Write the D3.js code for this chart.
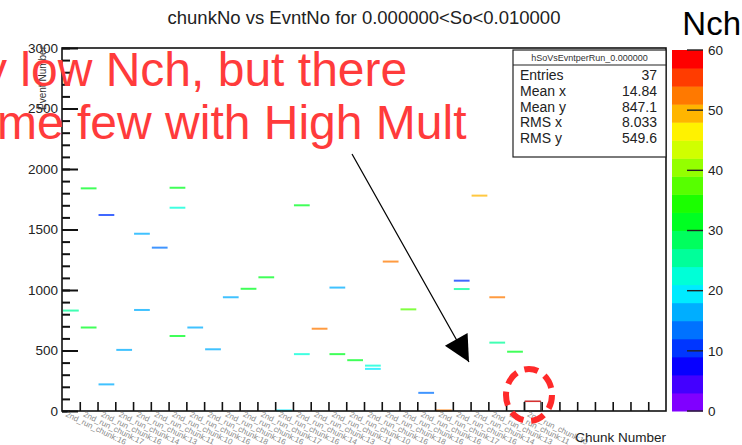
<!DOCTYPE html>
<html>
<head>
<meta charset="utf-8">
<script src="https://cdn.jsdelivr.net/npm/d3@7"></script>
<style>
  body { margin: 0; background: #fff; }
  svg { display: block; font-family: "Liberation Sans", Arial, sans-serif; }
</style>
</head>
<body>
<div id="chart"></div>
<script>
// chunk bin index of each filled cell
const chunks = [0, 1, 1, 2, 2, 3, 4, 4, 5, 6, 6, 6, 7, 8, 9, 10, 11, 12, 13, 13,
  14, 15, 15, 16, 17, 17, 18, 19, 20, 21, 22, 22, 23, 24, 24, 25];
// event number of each cell
const events = [830, 1840, 690, 1620, 220, 505, 1465, 835, 1350, 1845, 1680, 620, 690, 510, 940, 1010, 1105, 5, 1700, 470,
  680, 1020, 470, 420, 375, 348, 1235, 840, 150, 5, 1077, 1008, 1780, 940, 565, 490];
// Nch (colour) of each cell
const nch = [24, 32, 32, 11, 16, 16, 16, 16, 14, 32, 21, 32, 16, 16, 16, 32, 30, 20, 31, 21,
  51, 16, 30, 32, 21, 20, 51, 37, 14, 51, 11, 24, 49, 51, 24, 32];
// the one high multiplicity cell, drawn as a box
const boxCell = [{ chunk: 26, lo: 0, hi: 80, nch: 60 }];

const nBins = 34;
const yTicks = [0, 500, 1000, 1500, 2000, 2500, 3000];
const zTicks = [0, 10, 20, 30, 40, 50, 60];
const statNames = ['Entries', 'Mean x', 'Mean y', 'RMS x', 'RMS y'];
const statValues = ['37', '14.84', '847.1', '8.033', '549.6'];
// per chunk labels (tiny, unreadable in the original), only the filled chunks have one
const chunkLabels = d3.range(27).map(i => '2nd_run_chunk:' + [16, 17, 16, 14, 13, 11, 10, 16, 18, 16][i % 10]);

const W = 742, H = 445;
const padL = 62, padR = 666, padT = 48, padB = 411;

const svg = d3.select('#chart').append('svg')
  .attr('width', W).attr('height', H);

const x = d3.scaleLinear().domain([0, nBins]).range([padL, padR]);
const y = d3.scaleLinear().domain([0, 3000]).range([padB, padT]);
const z = d3.scaleLinear().domain([0, 60]).range([padB, 50]);

// ROOT-ish rainbow palette, 20 contours
const nCont = 20;
const bandColor = i => d3.hsl(270 * (1 - i / (nCont - 1)), 1, 0.5).toString();
const color = v => bandColor(Math.min(nCont - 1, Math.floor(v / 60 * nCont)));

// title
svg.append('text')
  .attr('x', 364).attr('y', 24)
  .attr('text-anchor', 'middle')
  .attr('font-size', 18.5)
  .attr('fill', '#222')
  .text('chunkNo vs EvntNo for 0.000000<So<0.010000');

svg.append('text')
  .attr('x', 741).attr('y', 35)
  .attr('text-anchor', 'end')
  .attr('font-size', 33)
  .attr('fill', '#000')
  .text('Nch');

// cells
const cells = chunks.map((c, i) => ({ c: c, e: events[i], n: nch[i] }));
svg.append('g').selectAll('line')
  .data(cells)
  .enter()
  .append('line')
  .attr('x1', d => x(d.c) + 1)
  .attr('x2', d => x(d.c + 1) - 1)
  .attr('y1', d => y(d.e))
  .attr('y2', d => y(d.e))
  .attr('stroke', d => color(d.n))
  .attr('stroke-opacity', 0.75)
  .attr('stroke-width', 2);

const box = svg.append('g').selectAll('g')
  .data(boxCell)
  .enter()
  .append('g');
box.append('rect')
  .attr('x', d => x(d.chunk) + 1)
  .attr('y', d => y(d.hi))
  .attr('width', d => x(d.chunk + 1) - x(d.chunk) - 2)
  .attr('height', d => y(d.lo) - y(d.hi))
  .attr('fill', 'none')
  .attr('stroke', '#555')
  .attr('stroke-width', 1);
box.append('line')
  .attr('x1', d => x(d.chunk) + 1)
  .attr('x2', d => x(d.chunk + 1) - 1)
  .attr('y1', d => y(d.hi))
  .attr('y2', d => y(d.hi))
  .attr('stroke', '#d83030')
  .attr('stroke-width', 1.5);

// frame
svg.append('rect')
  .attr('x', padL).attr('y', padT)
  .attr('width', padR - padL).attr('height', padB - padT)
  .attr('fill', 'none')
  .attr('stroke', '#111')
  .attr('stroke-width', 1.6);

// y axis: minor and major ticks pointing inward
svg.append('g')
  .attr('transform', 'translate(' + padL + ',0)')
  .call(d3.axisLeft(y).tickValues(d3.range(0, 3001, 100)).tickSize(-8).tickFormat(''))
  .call(g => g.select('.domain').remove());
const yMajor = svg.append('g')
  .attr('transform', 'translate(' + padL + ',0)')
  .call(d3.axisLeft(y).tickValues(yTicks).tickSize(-16).tickPadding(4).tickFormat(d3.format('d')))
  .call(g => g.select('.domain').remove());
yMajor.selectAll('text')
  .attr('font-size', 13.5)
  .attr('font-family', '"Liberation Sans", Arial, sans-serif')
  .attr('fill', '#222');
svg.selectAll('.tick line')
  .attr('stroke', '#111')
  .attr('stroke-width', 2);

svg.append('text')
  .attr('transform', 'translate(46,' + (padT - 2) + ') rotate(-90)')
  .attr('text-anchor', 'end')
  .attr('font-size', 10)
  .attr('fill', '#333')
  .text('Event Number');

// x axis: one tick per chunk bin
const xAxis = svg.append('g')
  .attr('transform', 'translate(0,' + padB + ')')
  .call(d3.axisBottom(x).tickValues(d3.range(1, nBins)).tickSize(-9).tickFormat(''))
  .call(g => g.select('.domain').remove());
xAxis.selectAll('.tick line')
  .attr('stroke', '#111')
  .attr('stroke-width', 1.6);
svg.append('g').selectAll('text')
  .data(chunkLabels)
  .enter()
  .append('text')
  .attr('transform', (d, i) => 'translate(' + (x(i + 0.5) - 6) + ',' + (padB + 5) + ') rotate(26)')
  .attr('font-size', 8)
  .attr('fill', '#8a8a8a')
  .text(d => d);
svg.append('text')
  .attr('x', padR).attr('y', 442)
  .attr('text-anchor', 'end')
  .attr('font-size', 13.5)
  .attr('fill', '#222')
  .text('Chunk Number');

// stats box
const sx0 = 513, sx1 = padR, sy0 = 50;
const stats = svg.append('g');
stats.append('rect')
  .attr('x', sx0).attr('y', sy0)
  .attr('width', sx1 - sx0).attr('height', 107)
  .attr('fill', '#fff')
  .attr('stroke', '#222')
  .attr('stroke-width', 1.2);
stats.append('line')
  .attr('x1', sx0).attr('x2', sx1)
  .attr('y1', 65).attr('y2', 65)
  .attr('stroke', '#222')
  .attr('stroke-width', 1.2);
stats.append('text')
  .attr('x', (sx0 + sx1) / 2).attr('y', 61)
  .attr('text-anchor', 'middle')
  .attr('font-size', 9)
  .attr('fill', '#333')
  .text('hSoVsEvntperRun_0.000000');
stats.selectAll('text.name')
  .data(statNames)
  .enter()
  .append('text')
  .attr('class', 'name')
  .attr('x', 520)
  .attr('y', (d, i) => 80 + i * 15.8)
  .attr('font-size', 14)
  .attr('fill', '#222')
  .text(d => d);
stats.selectAll('text.val')
  .data(statValues)
  .enter()
  .append('text')
  .attr('class', 'val')
  .attr('x', 657)
  .attr('y', (d, i) => 80 + i * 15.8)
  .attr('text-anchor', 'end')
  .attr('font-size', 14)
  .attr('fill', '#222')
  .text(d => d);

// palette
const px0 = 672, px1 = 703;
const pal = svg.append('g');
pal.selectAll('rect')
  .data(d3.range(nCont))
  .enter()
  .append('rect')
  .attr('x', px0)
  .attr('width', px1 - px0)
  .attr('y', i => z((i + 1) * 60 / nCont))
  .attr('height', i => z(i * 60 / nCont) - z((i + 1) * 60 / nCont) + 0.5)
  .attr('fill', i => bandColor(i));
pal.selectAll('line')
  .data(zTicks)
  .enter()
  .append('line')
  .attr('x1', px1 - 16).attr('x2', px1)
  .attr('y1', d => z(d)).attr('y2', d => z(d))
  .attr('stroke', '#222')
  .attr('stroke-width', 1.4);
pal.selectAll('text')
  .data(zTicks)
  .enter()
  .append('text')
  .attr('x', px1 + 5)
  .attr('y', d => z(d))
  .attr('dy', '0.35em')
  .attr('font-size', 13.5)
  .attr('fill', '#222')
  .text(d => d);

// annotation
const note = svg.append('g').attr('fill', '#ff3b3b').attr('font-size', 48);
note.append('text').attr('x', -17).attr('y', 86).text('y low Nch, but there');
note.append('text').attr('x', -3).attr('y', 139).text('me few with High Mult');

svg.append('defs').append('marker')
  .attr('id', 'head')
  .attr('viewBox', '0 0 10 10')
  .attr('refX', 10).attr('refY', 5)
  .attr('markerUnits', 'userSpaceOnUse')
  .attr('markerWidth', 34).attr('markerHeight', 26)
  .attr('orient', 'auto')
  .append('path')
  .attr('d', 'M0,0 L10,5 L0,10 Z')
  .attr('fill', '#000');
svg.append('line')
  .attr('x1', 352).attr('y1', 154)
  .attr('x2', 469).attr('y2', 362)
  .attr('stroke', '#000')
  .attr('stroke-width', 1.2)
  .attr('marker-end', 'url(#head)');

svg.append('ellipse')
  .attr('cx', 529).attr('cy', 395)
  .attr('rx', 23).attr('ry', 26)
  .attr('fill', 'none')
  .attr('stroke', '#ff2a2a')
  .attr('stroke-width', 6)
  .attr('stroke-dasharray', '14 8');
</script>
</body>
</html>
